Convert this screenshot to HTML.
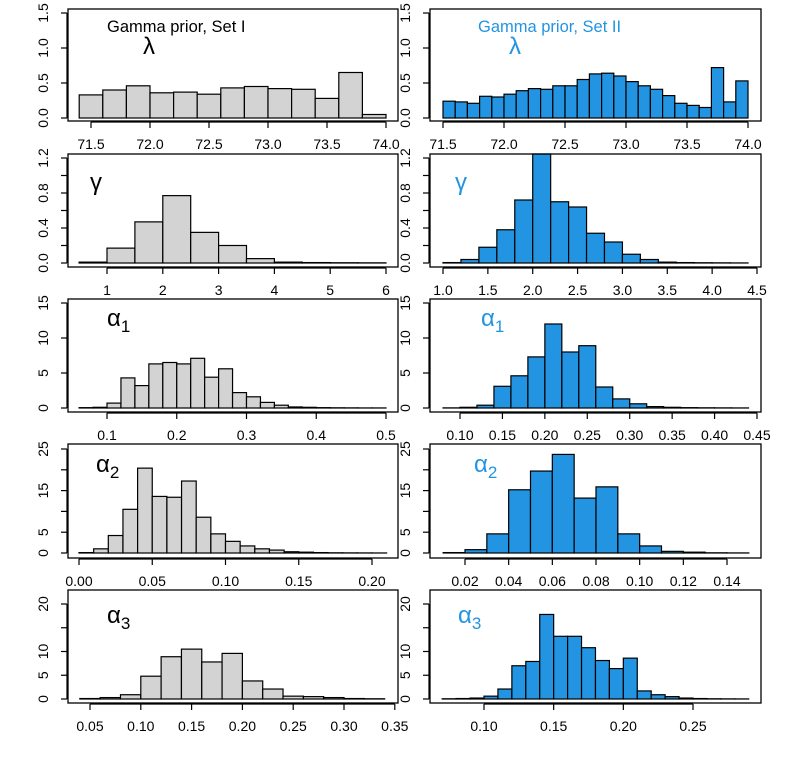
<!DOCTYPE html>
<html><head><meta charset="utf-8"><style>
body{margin:0;background:#fff;}
svg text{font-family:"Liberation Sans",sans-serif;}
</style></head><body>
<svg id="c" width="796" height="757" xmlns="http://www.w3.org/2000/svg"></svg>
<script>
// ---- data ----
const lamBreaksL=[71.4,74.0,0.2];
const lamL=[0.33,0.40,0.46,0.36,0.37,0.34,0.43,0.45,0.42,0.41,0.28,0.65,0.05];
const lamBreaksR=[71.5,74.0,0.1];
const lamR=[0.24,0.23,0.21,0.31,0.30,0.34,0.39,0.42,0.41,0.46,0.46,0.55,0.63,0.64,0.60,0.52,0.46,0.41,0.32,0.21,0.18,0.15,0.72,0.23,0.53];
const gamBreaksL=[0.5,6,0.5];
const gamL=[0.01,0.17,0.47,0.77,0.35,0.20,0.05,0.01,0.005,0.003,0.002];
const gamBreaksR=[1.0,4.4,0.2];
const gamR=[0.005,0.04,0.18,0.38,0.72,1.26,0.70,0.64,0.34,0.24,0.10,0.04,0.01,0.005,0.003,0.002,0.001];
const a1BreaksL=[0.06,0.50,0.02];
const a1L=[0.05,0.1,0.7,4.3,3.2,6.3,6.5,6.3,7.1,4.4,5.6,2.2,1.6,0.8,0.4,0.15,0.1,0.05,0.03,0.02,0.01,0.01];
const a1BreaksR=[0.08,0.44,0.02];
const a1R=[0.02,0.1,0.4,3.1,4.6,7.3,12,8,8.9,3,1.3,0.6,0.2,0.1,0.05,0.03,0.02,0.01];
const a2BreaksL=[0.0,0.21,0.01];
const a2L=[0.1,1,4.2,10.5,20.4,13.6,13.4,17.3,8.6,4.6,2.8,1.7,1.0,0.7,0.3,0.2,0.1,0.05,0.03,0.02,0.01];
const a2BreaksR=[0.01,0.15,0.01];
const a2R=[0.1,0.8,4.6,15.2,19.7,23.7,13.2,15.9,4.6,1.7,0.4,0.2,0.05,0.02];
const a3BreaksL=[0.04,0.34,0.02];
const a3L=[0.1,0.3,0.9,4.8,8.9,10.5,7.8,9.6,3.8,2.1,0.6,0.5,0.3,0.1,0.05];
const a3BreaksR=[0.07,0.29,0.01];
const a3R=[0.05,0.1,0.2,0.6,2.1,7.0,7.9,17.8,13.2,13.2,10.8,8.1,6.4,8.6,1.7,0.9,0.5,0.2,0.1,0.05,0.03,0.02];
// tick labels
const xtLamL=["71.5","72.0","72.5","73.0","73.5","74.0"], xtLamR=xtLamL;
const xtGamL=["1","2","3","4","5","6"];
const xtGamR=["1.0","1.5","2.0","2.5","3.0","3.5","4.0","4.5"];
const xtA1L=["0.1","0.2","0.3","0.4","0.5"];
const xtA1R=["0.10","0.15","0.20","0.25","0.30","0.35","0.40","0.45"];
const xtA2L=["0.00","0.05","0.10","0.15","0.20"];
const xtA2R=["0.02","0.04","0.06","0.08","0.10","0.12","0.14"];
const xtA3L=["0.05","0.10","0.15","0.20","0.25","0.30","0.35"];
const xtA3R=["0.10","0.15","0.20","0.25"];
const ytLam=[0,0.5,1,1.5], ytLamLab=["0.0","0.5","1.0","1.5"];
const ytGam=[0,0.2,0.4,0.6,0.8,1.0,1.2], ytGamLab=["0.0","","0.4","","0.8","","1.2"];
const ytA1=[0,5,10,15], ytA1Lab=["0","5","10","15"];
const ytA2=[0,5,10,15,20,25], ytA2Lab=["0","5","","15","","25"];
const ytA3=[0,5,10,15,20], ytA3Lab=["0","5","10","","20"];

const NS="http://www.w3.org/2000/svg";
const svg=document.getElementById('c');
function mk(tag,at,parent){const e=document.createElementNS(NS,tag);for(const k in at)e.setAttribute(k,at[k]);(parent||svg).appendChild(e);return e;}

function panel(o){
  const g=mk('g',{});
  
  
  const sx=v=>o.px1+(v-o.vx1)*(o.px2-o.px1)/(o.vx2-o.vx1);
  const sy=v=>o.py0+(v)*(o.py1-o.py0)/o.vy1;
  const [b0,,bw]=o.breaks;
  o.vals.forEach((h,i)=>{
    const xa=sx(b0+i*bw), xb=sx(b0+(i+1)*bw);
    const yt=Math.max(o.top,sy(h));
    const r=mk('rect',{x:xa,y:yt,width:xb-xa,height:Math.max(0,o.py0-yt),fill:o.fill,stroke:'#000','stroke-width':1.2},g);
    
    
  });
  const bx=mk('rect',{x:o.left,y:o.top,width:o.right-o.left,height:o.bottom-o.top,fill:'none',stroke:'#000','stroke-width':1.3},g);
  
  
  mk('line',{x1:sx(+o.xt[0]),x2:sx(+o.xt[o.xt.length-1]),y1:o.bottom+1,y2:o.bottom+1,stroke:'#000','stroke-width':1.2},g);
  o.xt.forEach(t=>{
    const x=sx(+t);
    mk('line',{x1:x,x2:x,y1:o.bottom+1,y2:o.bottom+7,stroke:'#000','stroke-width':1.2},g);
    const tx=mk('text',{x:x,y:o.bottom+28,'font-size':14,'text-anchor':'middle',fill:'#000'},g);
    tx.textContent=t;
    
    
  });
  mk('line',{x1:o.left-1,x2:o.left-1,y1:sy(o.yt[0]),y2:sy(o.yt[o.yt.length-1]),stroke:'#000','stroke-width':1.2},g);
  o.yt.forEach((t,i)=>{
    const y=sy(t);
    mk('line',{x1:o.left-7,x2:o.left-1,y1:y,y2:y,stroke:'#000','stroke-width':1.2},g);
    if(o.ytl[i]){
      const tx=mk('text',{x:0,y:0,'font-size':14,'text-anchor':'middle',fill:'#000',transform:`translate(${o.left-20},${y}) rotate(-90)`},g);
      tx.textContent=o.ytl[i];
      
      
    }
  });
  const lb=mk('text',{x:o.lx,y:o.ly,'font-size':24,fill:o.tcol,'font-family':'"Liberation Serif",serif'},g);
  lb.textContent=o.sym;
  if(o.sub){const s=mk('tspan',{'font-size':17,dy:6,'font-family':'"Liberation Sans",sans-serif'},lb);s.textContent=o.sub;}
  
  
}
const GRAY='#d3d3d3', BLUE='#2394e2';
const L={left:68,right:398}, R={left:430,right:761};
const rows=[
 {top:9,bottom:121,py0:118,py1:13,vy1:1.5,yt:ytLam,ytl:ytLamLab,sym:'λ'},
 {top:154,bottom:267,py0:263,py1:158,vy1:1.2,yt:ytGam,ytl:ytGamLab,sym:'γ'},
 {top:299,bottom:412,py0:408,py1:303,vy1:15,yt:ytA1,ytl:ytA1Lab,sym:'α',sub:'1'},
 {top:444,bottom:558,py0:553,py1:449,vy1:25,yt:ytA2,ytl:ytA2Lab,sym:'α',sub:'2'},
 {top:590,bottom:703,py0:699,py1:604,vy1:20,yt:ytA3,ytl:ytA3Lab,sym:'α',sub:'3'}
];
const left=[
 {name:'lambda-set1',breaks:lamBreaksL,vals:lamL,xt:xtLamL,vx1:71.5,px1:91,vx2:74,px2:386,lx:143,ly:54},
 {name:'gamma-set1',breaks:gamBreaksL,vals:gamL,xt:xtGamL,vx1:1,px1:107,vx2:6,px2:386,lx:90,ly:190},
 {name:'alpha1-set1',breaks:a1BreaksL,vals:a1L,xt:xtA1L,vx1:0.1,px1:107,vx2:0.5,px2:386,lx:107,ly:326},
 {name:'alpha2-set1',breaks:a2BreaksL,vals:a2L,xt:xtA2L,vx1:0,px1:79,vx2:0.2,px2:372,lx:96,ly:472},
 {name:'alpha3-set1',breaks:a3BreaksL,vals:a3L,xt:xtA3L,vx1:0.05,px1:90,vx2:0.3,px2:344,lx:107,ly:623}
];
const right=[
 {name:'lambda-set2',breaks:lamBreaksR,vals:lamR,xt:xtLamR,vx1:71.5,px1:443,vx2:74,px2:748,lx:509,ly:54},
 {name:'gamma-set2',breaks:gamBreaksR,vals:gamR,xt:xtGamR,vx1:1,px1:443,vx2:4.5,px2:757,lx:455,ly:190},
 {name:'alpha1-set2',breaks:a1BreaksR,vals:a1R,xt:xtA1R,vx1:0.1,px1:460,vx2:0.45,px2:757,lx:481,ly:326},
 {name:'alpha2-set2',breaks:a2BreaksR,vals:a2R,xt:xtA2R,vx1:0.02,px1:465,vx2:0.14,px2:727,lx:474,ly:472},
 {name:'alpha3-set2',breaks:a3BreaksR,vals:a3R,xt:xtA3R,vx1:0.1,px1:484,vx2:0.25,px2:693,lx:458,ly:623}
];
rows.forEach((r,i)=>{
  panel(Object.assign({},r,L,left[i],{fill:GRAY,tcol:'#000'}));
  panel(Object.assign({},r,R,right[i],{fill:BLUE,tcol:BLUE}));
});
const t1=mk('text',{x:107,y:32,'font-size':16.5,fill:'#000'});t1.textContent='Gamma prior, Set I';


const t2=mk('text',{x:478,y:32,'font-size':16.5,fill:BLUE});t2.textContent='Gamma prior, Set II';


</script>
</body></html>
